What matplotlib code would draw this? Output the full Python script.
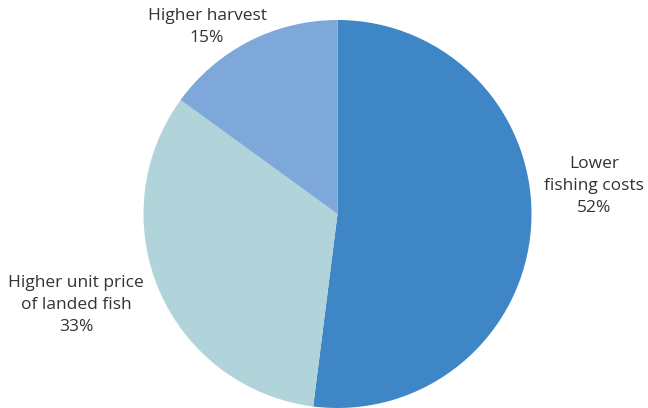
import matplotlib
matplotlib.use("Agg")
import matplotlib.pyplot as plt

labels = ["Lower\nfishing costs\n52%", "Higher unit price\nof landed fish\n33%", "Higher harvest\n15%"]
shares = [52, 33, 15]
colors = ["#3f86c6", "#b0d4da", "#7ea8da"]

W, H = 648, 408
fig = plt.figure(figsize=(W / 100, H / 100), dpi=100)
ax = fig.add_axes([0, 0, 1, 1])

ax.pie(shares, colors=colors, startangle=90, counterclock=False,
       center=(337.5, H - 214), radius=194, frame=True,
       wedgeprops=dict(linewidth=0))
ax.set_xlim(0, W)
ax.set_ylim(0, H)
ax.set_aspect("equal")
ax.axis("off")

# label positions (pixels from top-left)
label_pos = [(594, 186), (76, 305), (207, 27)]
for text, (x, y) in zip(labels, label_pos):
    ax.text(x, H - y, text, ha="center", va="center", fontsize=12.5,
            color="#333333", family="Open Sans", linespacing=1.5)

fig.savefig("out.png", dpi=100)
